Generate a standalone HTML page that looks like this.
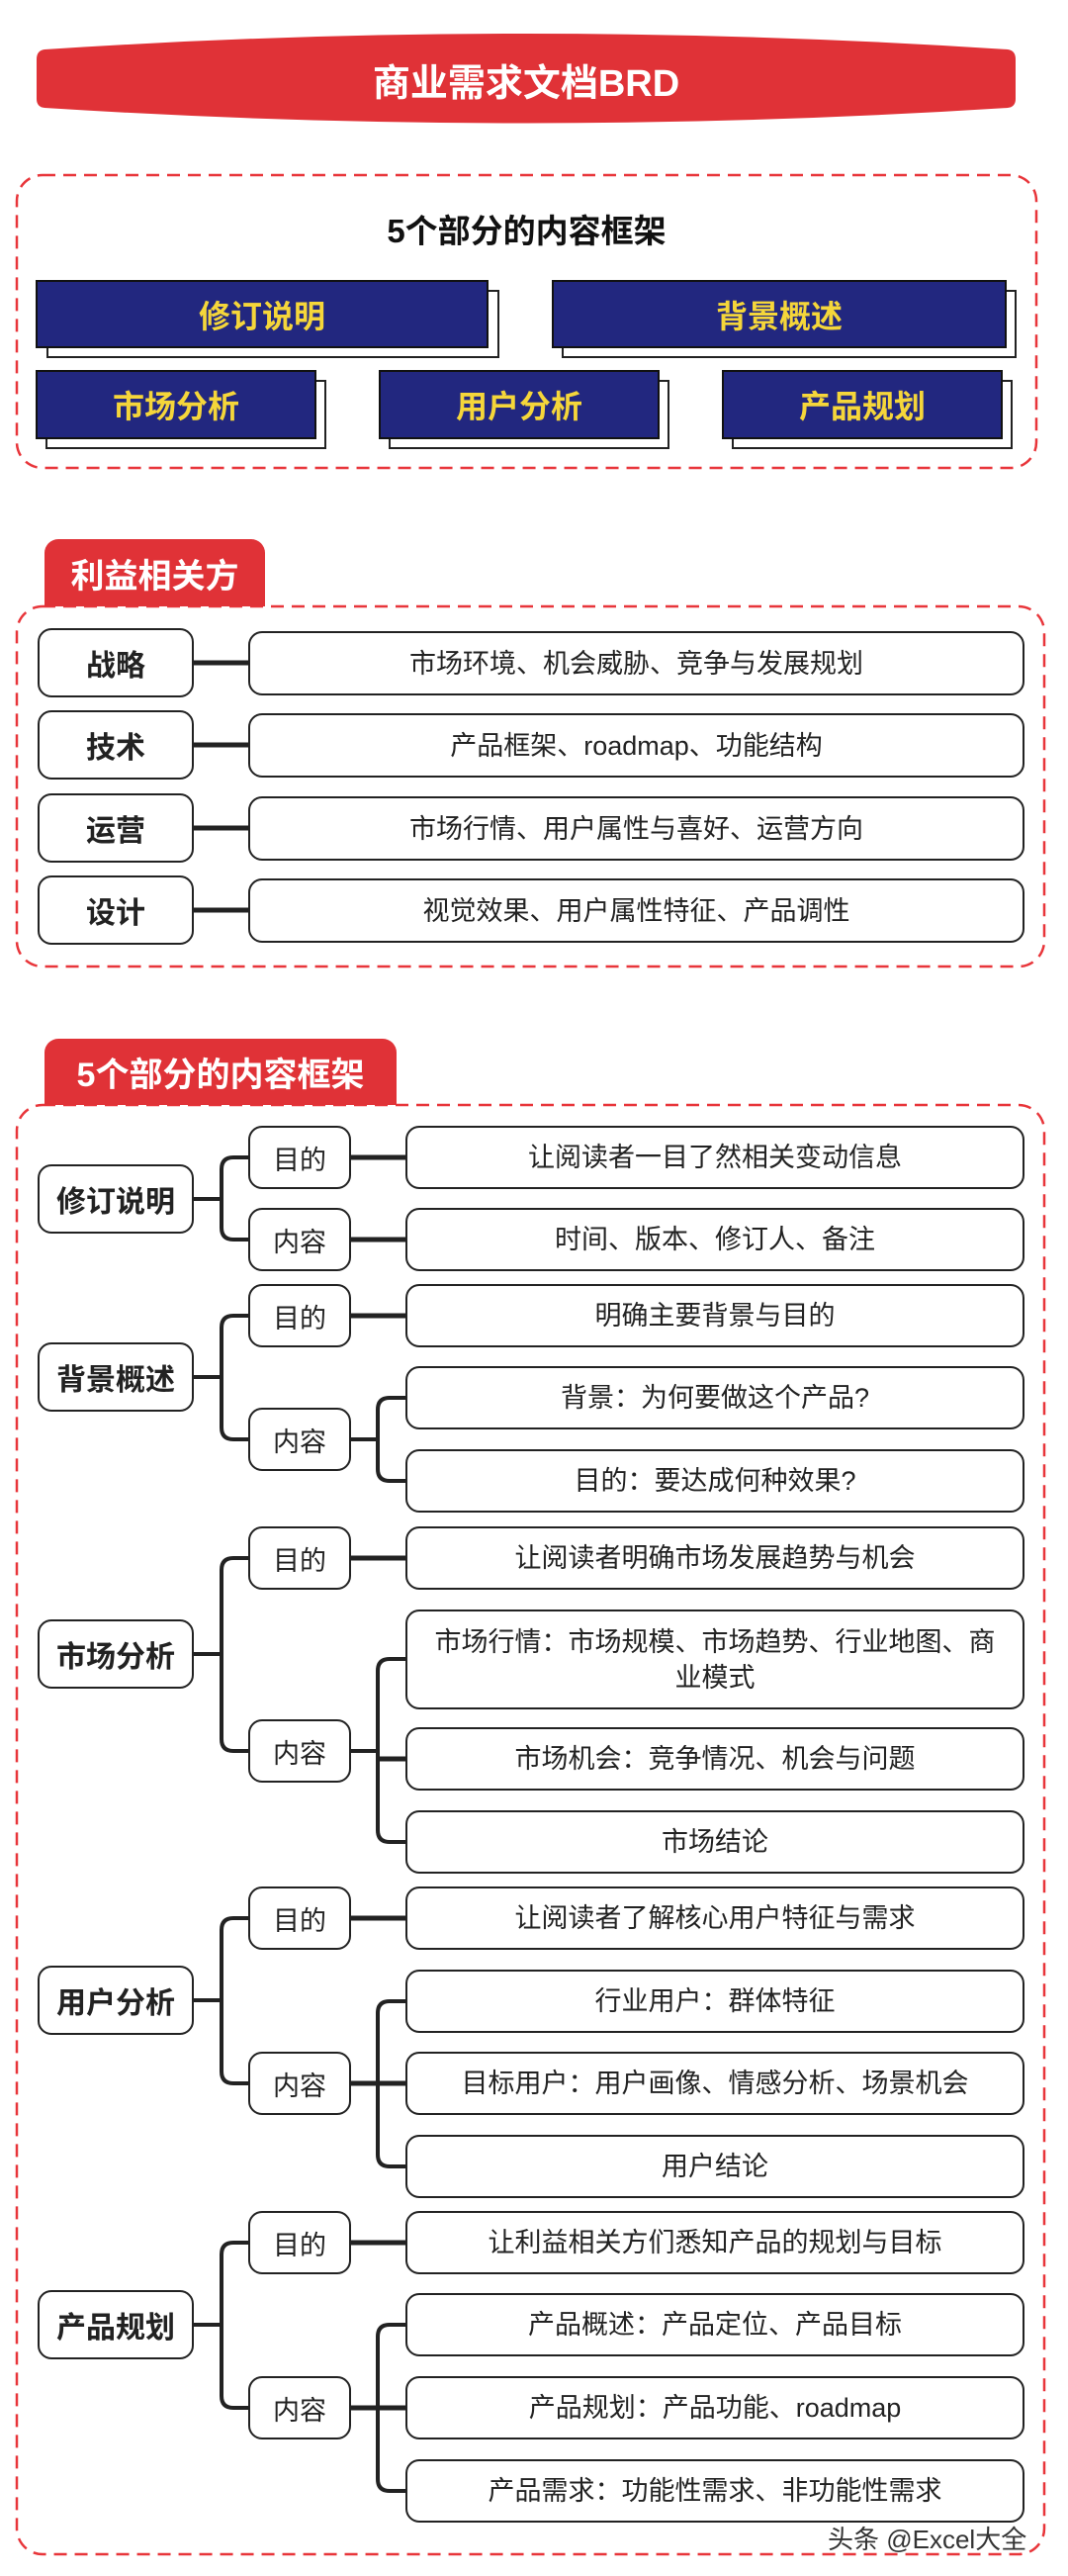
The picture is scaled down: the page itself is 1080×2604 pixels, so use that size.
<!DOCTYPE html>
<html><head><meta charset="utf-8">
<style>
*{margin:0;padding:0;box-sizing:border-box}
body{width:1080px;height:2604px;background:#fff;position:relative;overflow:hidden;font-family:"Liberation Sans","Noto Sans CJK SC",sans-serif;color:#222}
.a{position:absolute}
.b{position:absolute;background:#fff;border:2.5px solid #222;border-radius:14px;display:flex;align-items:center;justify-content:center;text-align:center}
.cat{font-weight:bold;font-size:30px}
.mid{font-size:27px}
.r{font-size:27px;line-height:36px}
.nav{position:absolute;background:#22277f;border:2px solid #111;color:#f5d63a;font-weight:bold;font-size:32px;display:flex;align-items:center;justify-content:center}
.sh{position:absolute;background:#fff;border:2px solid #222}
.tab{position:absolute;background:#e03237;color:#fff;font-weight:bold;font-size:34px;border-radius:14px 14px 0 0;display:flex;align-items:center;justify-content:center}
svg{position:absolute;left:0;top:0}
</style></head><body>
<svg width="1080" height="2604" viewBox="0 0 1080 2604">
<path d="M45,50 Q532,18 1019,50 Q1027,51 1027,60 L1027,100 Q1027,108 1019,109 Q532,140 45,109 Q37,108 37,100 L37,60 Q37,51 45,50 Z" fill="#e03237"/>
<g fill="none" stroke="#e8353a" stroke-width="2.5" stroke-dasharray="13 8">
<rect x="17" y="177" width="1031" height="296" rx="26"/>
<rect x="17" y="613" width="1039" height="364" rx="26"/>
<rect x="17" y="1117" width="1039" height="1465" rx="26"/>
</g>
<g stroke="#222" stroke-width="5">
<line x1="196" y1="670" x2="251" y2="670"/>
<line x1="196" y1="753" x2="251" y2="753"/>
<line x1="196" y1="837" x2="251" y2="837"/>
<line x1="196" y1="920" x2="251" y2="920"/>
</g>
<g fill="none" stroke="#222" stroke-width="4">
<line x1="196" y1="1212" x2="224" y2="1212"/>
<path d="M251,1170 H236 Q224,1170 224,1182 V1241 Q224,1253 236,1253 H251"/>
<line x1="355" y1="1170" x2="410" y2="1170" stroke-width="5"/>
<line x1="355" y1="1253" x2="410" y2="1253" stroke-width="5"/>
<line x1="196" y1="1392" x2="224" y2="1392"/>
<path d="M251,1330 H236 Q224,1330 224,1342 V1443 Q224,1455 236,1455 H251"/>
<line x1="355" y1="1330" x2="410" y2="1330" stroke-width="5"/>
<line x1="355" y1="1455" x2="382" y2="1455"/>
<path d="M410,1413 H394 Q382,1413 382,1425 V1485 Q382,1497 394,1497 H410"/>
<line x1="196" y1="1672" x2="224" y2="1672"/>
<path d="M251,1575 H236 Q224,1575 224,1587 V1758 Q224,1770 236,1770 H251"/>
<line x1="355" y1="1575" x2="410" y2="1575" stroke-width="5"/>
<line x1="355" y1="1770" x2="382" y2="1770"/>
<line x1="382" y1="1778" x2="410" y2="1778" stroke-width="5"/>
<path d="M410,1677 H394 Q382,1677 382,1689 V1850 Q382,1862 394,1862 H410"/>
<line x1="196" y1="2022" x2="224" y2="2022"/>
<path d="M251,1939 H236 Q224,1939 224,1951 V2094 Q224,2106 236,2106 H251"/>
<line x1="355" y1="1939" x2="410" y2="1939" stroke-width="5"/>
<line x1="355" y1="2106" x2="410" y2="2106" stroke-width="5"/>
<path d="M410,2023 H394 Q382,2023 382,2035 V2178 Q382,2190 394,2190 H410"/>
<line x1="196" y1="2350" x2="224" y2="2350"/>
<path d="M251,2267 H236 Q224,2267 224,2279 V2422 Q224,2434 236,2434 H251"/>
<line x1="355" y1="2267" x2="410" y2="2267" stroke-width="5"/>
<line x1="355" y1="2434" x2="410" y2="2434" stroke-width="5"/>
<path d="M410,2350 H394 Q382,2350 382,2362 V2506 Q382,2518 394,2518 H410"/>
</g>
</svg>

<div class="a" style="left:37px;top:52px;width:990px;height:56px;display:flex;align-items:center;justify-content:center;color:#fff;font-weight:bold;font-size:38px">商业需求文档BRD</div>

<div class="a" style="left:17px;top:212px;width:1031px;text-align:center;font-weight:bold;font-size:33px;line-height:44px;color:#111">5个部分的内容框架</div>
<div class="sh" style="left:47px;top:293px;width:458px;height:69px"></div>
<div class="nav" style="left:36px;top:283px;width:458px;height:69px">修订说明</div>
<div class="sh" style="left:568px;top:293px;width:460px;height:69px"></div>
<div class="nav" style="left:558px;top:283px;width:460px;height:69px">背景概述</div>
<div class="sh" style="left:46px;top:384px;width:284px;height:70px"></div>
<div class="nav" style="left:36px;top:374px;width:284px;height:70px">市场分析</div>
<div class="sh" style="left:393px;top:384px;width:284px;height:70px"></div>
<div class="nav" style="left:383px;top:374px;width:284px;height:70px">用户分析</div>
<div class="sh" style="left:740px;top:384px;width:284px;height:70px"></div>
<div class="nav" style="left:730px;top:374px;width:284px;height:70px">产品规划</div>

<div class="tab" style="left:45px;top:545px;width:223px;height:68px">利益相关方</div>
<div class="b cat" style="left:38px;top:635px;width:158px;height:70px">战略</div>
<div class="b r" style="left:251px;top:638px;width:785px;height:65px">市场环境、机会威胁、竞争与发展规划</div>
<div class="b cat" style="left:38px;top:718px;width:158px;height:70px">技术</div>
<div class="b r" style="left:251px;top:721px;width:785px;height:65px">产品框架、roadmap、功能结构</div>
<div class="b cat" style="left:38px;top:802px;width:158px;height:70px">运营</div>
<div class="b r" style="left:251px;top:805px;width:785px;height:65px">市场行情、用户属性与喜好、运营方向</div>
<div class="b cat" style="left:38px;top:885px;width:158px;height:70px">设计</div>
<div class="b r" style="left:251px;top:888px;width:785px;height:65px">视觉效果、用户属性特征、产品调性</div>

<div class="tab" style="left:45px;top:1050px;width:356px;height:67px">5个部分的内容框架</div>

<div class="b cat" style="left:38px;top:1177px;width:158px;height:70px">修订说明</div>
<div class="b mid" style="left:251px;top:1138px;width:104px;height:64px">目的</div>
<div class="b mid" style="left:251px;top:1221px;width:104px;height:64px">内容</div>
<div class="b r" style="left:410px;top:1138px;width:626px;height:64px">让阅读者一目了然相关变动信息</div>
<div class="b r" style="left:410px;top:1221px;width:626px;height:64px">时间、版本、修订人、备注</div>

<div class="b cat" style="left:38px;top:1357px;width:158px;height:70px">背景概述</div>
<div class="b mid" style="left:251px;top:1298px;width:104px;height:64px">目的</div>
<div class="b mid" style="left:251px;top:1423px;width:104px;height:64px">内容</div>
<div class="b r" style="left:410px;top:1298px;width:626px;height:64px">明确主要背景与目的</div>
<div class="b r" style="left:410px;top:1381px;width:626px;height:64px">背景：为何要做这个产品?</div>
<div class="b r" style="left:410px;top:1465px;width:626px;height:64px">目的：要达成何种效果?</div>

<div class="b cat" style="left:38px;top:1637px;width:158px;height:70px">市场分析</div>
<div class="b mid" style="left:251px;top:1543px;width:104px;height:64px">目的</div>
<div class="b mid" style="left:251px;top:1738px;width:104px;height:64px">内容</div>
<div class="b r" style="left:410px;top:1543px;width:626px;height:64px">让阅读者明确市场发展趋势与机会</div>
<div class="b r" style="left:410px;top:1627px;width:626px;height:101px">市场行情：市场规模、市场趋势、行业地图、商<br>业模式</div>
<div class="b r" style="left:410px;top:1746px;width:626px;height:64px">市场机会：竞争情况、机会与问题</div>
<div class="b r" style="left:410px;top:1830px;width:626px;height:64px">市场结论</div>

<div class="b cat" style="left:38px;top:1987px;width:158px;height:70px">用户分析</div>
<div class="b mid" style="left:251px;top:1907px;width:104px;height:64px">目的</div>
<div class="b mid" style="left:251px;top:2074px;width:104px;height:64px">内容</div>
<div class="b r" style="left:410px;top:1907px;width:626px;height:64px">让阅读者了解核心用户特征与需求</div>
<div class="b r" style="left:410px;top:1991px;width:626px;height:64px">行业用户：群体特征</div>
<div class="b r" style="left:410px;top:2074px;width:626px;height:64px">目标用户：用户画像、情感分析、场景机会</div>
<div class="b r" style="left:410px;top:2158px;width:626px;height:64px">用户结论</div>

<div class="b cat" style="left:38px;top:2315px;width:158px;height:70px">产品规划</div>
<div class="b mid" style="left:251px;top:2235px;width:104px;height:64px">目的</div>
<div class="b mid" style="left:251px;top:2402px;width:104px;height:64px">内容</div>
<div class="b r" style="left:410px;top:2235px;width:626px;height:64px">让利益相关方们悉知产品的规划与目标</div>
<div class="b r" style="left:410px;top:2318px;width:626px;height:64px">产品概述：产品定位、产品目标</div>
<div class="b r" style="left:410px;top:2402px;width:626px;height:64px">产品规划：产品功能、roadmap</div>
<div class="b r" style="left:410px;top:2486px;width:626px;height:64px">产品需求：功能性需求、非功能性需求</div>

<div class="a" style="left:837px;top:2550px;font-size:26px;line-height:34px;color:#333;white-space:nowrap">头条 @Excel大全</div>
</body></html>
